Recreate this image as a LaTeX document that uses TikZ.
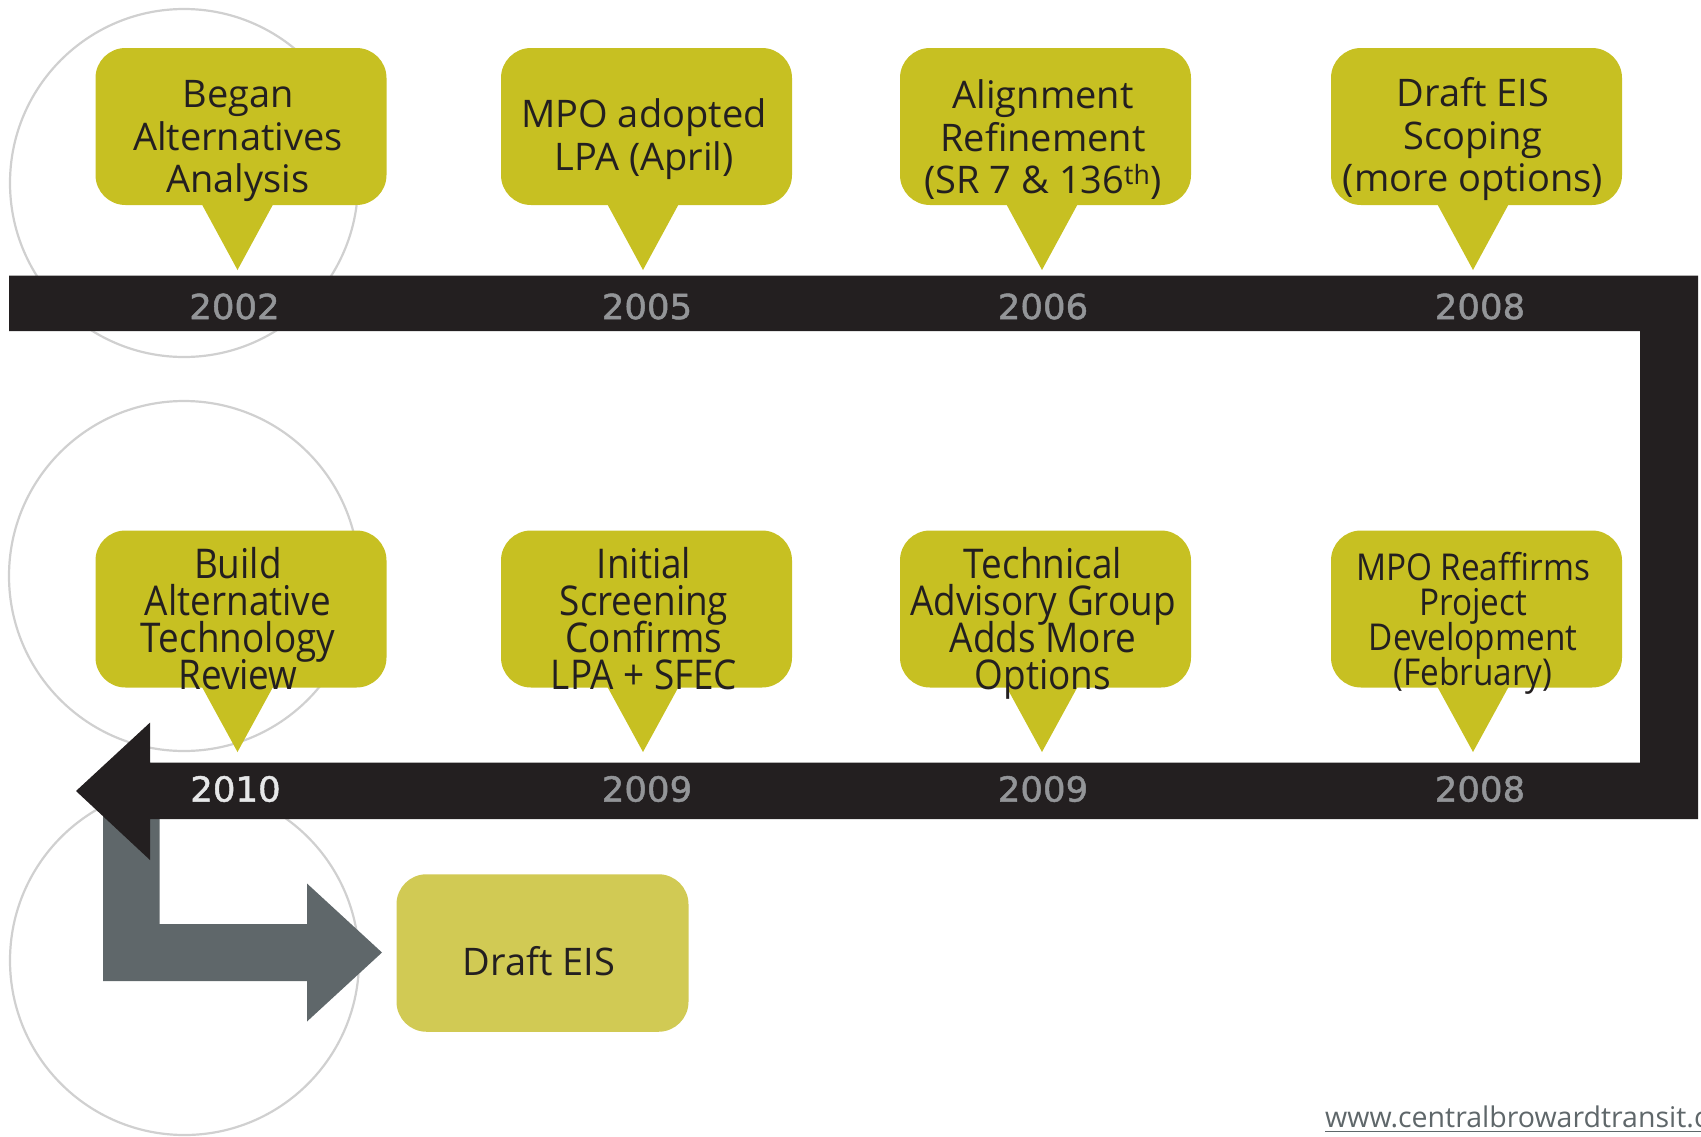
\documentclass[tikz,border=0pt]{standalone}
\usepackage{fontspec}
\setmainfont{Open Sans}
\newfontfamily\bubfont{Open Sans}
\newfontfamily\condfont{Open Sans}[FakeStretch=0.9]
\newfontfamily\yrfontfam{DejaVu Sans}[FakeStretch=1.03,FakeBold=1.3]
\definecolor{bubcol}{RGB}{199,192,34}
\definecolor{draftcol}{RGB}{209,202,84}
\definecolor{barblack}{RGB}{35,31,32}
\definecolor{arrgray}{RGB}{95,103,106}
\definecolor{yrgray}{RGB}{147,149,152}
\definecolor{yrwhite}{RGB}{230,231,232}
\definecolor{circgray}{RGB}{208,208,208}
\definecolor{txtdark}{RGB}{35,31,32}
\newcommand{\tightlines}{\lineskiplimit=-100pt\lineskip=0pt}
\tikzset{
  circ/.style={draw=circgray, line width=2.2pt},
  bub/.style={fill=bubcol, rounded corners=30pt, minimum width=291pt, minimum height=157pt, inner sep=0pt, outer sep=0pt},
  draftbox/.style={fill=draftcol, rounded corners=30pt, minimum width=292pt, minimum height=157.5pt, inner sep=0pt, outer sep=0pt},
  btop/.style={font=\bubfont\fontsize{38}{42.5}\selectfont\tightlines, align=center, text=txtdark, inner sep=0pt},
  bbot/.style={font=\condfont\fontsize{41}{37}\selectfont\tightlines, align=center, text=txtdark, inner sep=0pt},
  bsmall/.style={font=\condfont\fontsize{37}{35}\selectfont\tightlines, align=center, text=txtdark, inner sep=0pt},
  dtxt/.style={font=\bubfont\fontsize{38}{42}\selectfont, text=txtdark, inner sep=0pt},
  yr/.style={font=\yrfontfam\fontsize{34.5}{36}\selectfont, text=yrgray, inner sep=0pt},
  urlst/.style={font=\bubfont\fontsize{28.5}{30}\selectfont, text=arrgray, inner sep=0pt},
}
\newcommand{\pointer}[2]{% bubble name, tip coordinate name
  \fill[bubcol] ([xshift=-42pt,yshift=6pt]#1.south) -- ([xshift=35pt,yshift=6pt]#1.south) -- (#2) -- cycle;}
\begin{document}
\begin{tikzpicture}[x=1pt,y=-1pt]
\useasboundingbox (0,0) rectangle (1701,1136);
\clip (0,0) rectangle (1701,1136);
% background circles
\draw[circ] (184,183) circle[radius=174];
\draw[circ] (184,576) circle[radius=175];
\draw[circ] (184.5,960.5) circle[radius=174.5];
% gray L arrow
\fill[arrgray] (103,800) -- (103,981) -- (307,981) -- (307,1021.5) -- (382,952.5) -- (307,883.5) -- (307,924) -- (159.5,924) -- (159.5,800) -- cycle;
% black timeline
\fill[barblack] (9,275.5) -- (1698,275.5) -- (1698,819) -- (150,819) -- (150,860) -- (76,791) -- (150,722.6) -- (150,762.6) -- (1640,762.6) -- (1640,331) -- (9,331) -- cycle;
% top row bubbles
\node[bub] (b1) at (241,126.5) {};
\node[bub] (b2) at (646.5,126.5) {};
\node[bub] (b3) at (1045.5,126.5) {};
\node[bub] (b4) at (1476.5,126.5) {};
\coordinate (p1) at (237.5,270);
\coordinate (p2) at (643,270);
\coordinate (p3) at (1042,270);
\coordinate (p4) at (1473,270);
\pointer{b1}{p1}
\pointer{b2}{p2}
\pointer{b3}{p3}
\pointer{b4}{p4}
% bottom row bubbles
\node[bub] (b5) at (241,609) {};
\node[bub] (b6) at (646.5,609) {};
\node[bub] (b7) at (1045.5,609) {};
\node[bub] (b8) at (1476.5,609) {};
\coordinate (p5) at (237.5,752);
\coordinate (p6) at (643,752);
\coordinate (p7) at (1042,752);
\coordinate (p8) at (1473,752);
\pointer{b5}{p5}
\pointer{b6}{p6}
\pointer{b7}{p7}
\pointer{b8}{p8}
% bubble texts
\node[btop] (t1) at (238,141) {Began\\Alternatives\\Analysis};
\node[btop] (t2) at (644,139) {MPO adopted\\LPA (April)};
\node[btop] (t3) at (1043,140) {Alignment\\Refinement\\(SR 7 \& 136\textsuperscript{th})};
\node[btop] (t4) at (1473,139.5) {Draft EIS\\Scoping\\(more options)};
\node[bbot] (t5) at (238,618.5) {Build\\Alternative\\Technology\\Review};
\node[bbot] (t6) at (644,619) {Initial\\Screening\\Confirms\\LPA + SFEC};
\node[bbot] (t7) at (1043,623.5) {Technical\\Advisory Group\\Adds More\\Options};
\node[bsmall] (t8) at (1473,623) {MPO Reaffirms\\Project\\Development\\(February)};
% years
\node[yr] (y1) at (234.5,306.5) {2002};
\node[yr] (y2) at (647,306.5) {2005};
\node[yr] (y3) at (1043,306.5) {2006};
\node[yr] (y4) at (1480,306.5) {2008};
\node[yr, text=yrwhite] (y5) at (235.5,789) {2010};
\node[yr] (y6) at (647,789) {2009};
\node[yr] (y7) at (1043,789) {2009};
\node[yr] (y8) at (1480,789) {2008};
% final box
\node[draftbox] (draft) at (542.5,953) {};
\node[dtxt] (dt) at (539,961) {Draft EIS};
% url
\node[urlst, anchor=base west] (url) at (1325,1127) {www.centralbrowardtransit.com};
\draw[arrgray, line width=1.8pt] ([yshift=-4.5pt]url.base west) -- ([yshift=-4.5pt]url.base east);
\end{tikzpicture}
\end{document}
